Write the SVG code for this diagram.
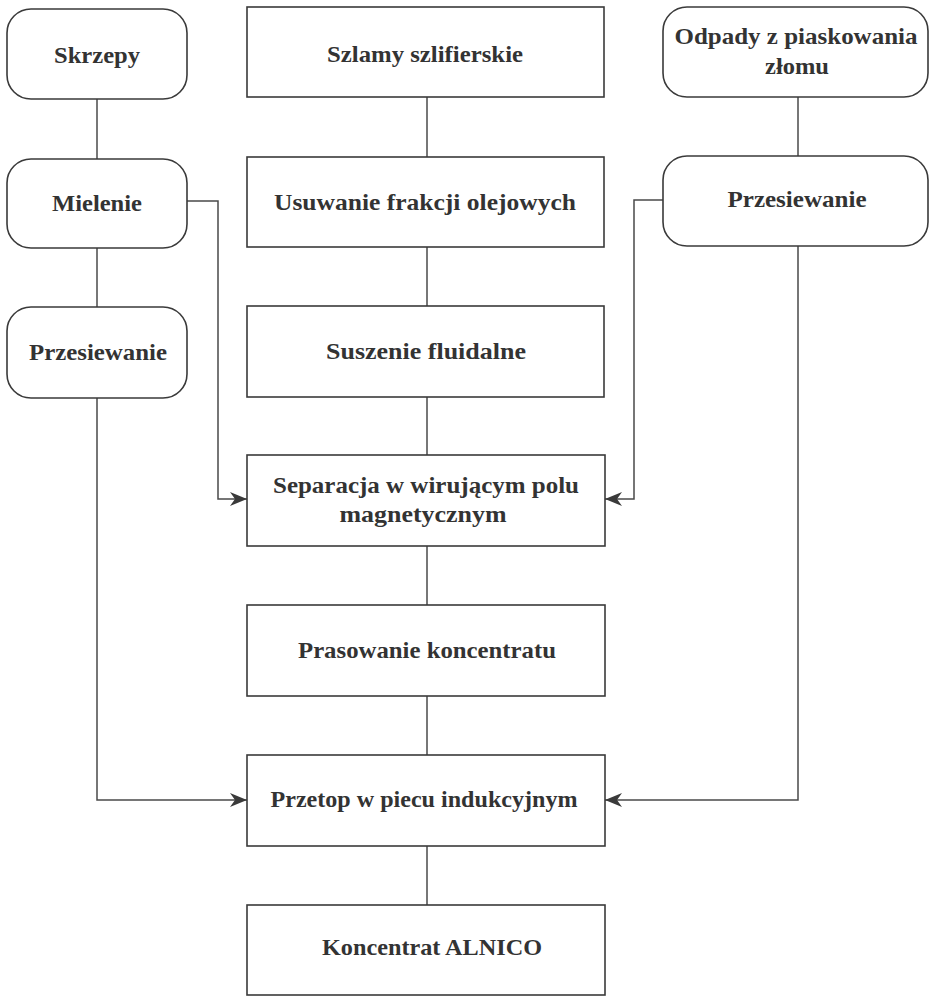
<svg xmlns="http://www.w3.org/2000/svg" width="932" height="997" viewBox="0 0 932 997">
<style>
.box{fill:#fff;stroke:#3a3a3a;stroke-width:1.6}
.ln{fill:none;stroke:#4a4a4a;stroke-width:1.5}
text{font-family:"Liberation Serif","Times New Roman",serif;font-weight:bold;font-size:23px;fill:#333;text-anchor:middle}
</style>
<defs>
<marker id="ah" markerUnits="userSpaceOnUse" markerWidth="18" markerHeight="16" refX="17" refY="8" orient="auto">
<path d="M0,1 L17,8 L0,15 L5,8 z" fill="#3a3a3a"/>
</marker>
</defs>
<rect width="932" height="997" fill="#fff"/>
<g id="connectors">
<path class="ln" d="M97,99 V159"/>
<path class="ln" d="M97,248 V307"/>
<path class="ln" d="M97,398 V800 H247" marker-end="url(#ah)"/>
<path class="ln" d="M187,201 H218 V499 H247" marker-end="url(#ah)"/>
<path class="ln" d="M427,97 V157"/>
<path class="ln" d="M427,247 V306"/>
<path class="ln" d="M427,397 V455"/>
<path class="ln" d="M427,546 V605"/>
<path class="ln" d="M427,696 V755"/>
<path class="ln" d="M427,846 V905"/>
<path class="ln" d="M798,97 V156"/>
<path class="ln" d="M798,246 V800 H605" marker-end="url(#ah)"/>
<path class="ln" d="M663,200 H634 V499 H605" marker-end="url(#ah)"/>
</g>
<g id="skrzepy"><rect class="box" x="7" y="9" width="180" height="90" rx="24"/><text x="97" y="63" textLength="86" lengthAdjust="spacingAndGlyphs">Skrzepy</text></g>
<g id="mielenie"><rect class="box" x="7" y="159" width="180" height="89" rx="24"/><text x="97" y="211" textLength="90" lengthAdjust="spacingAndGlyphs">Mielenie</text></g>
<g id="przesiewanie-l"><rect class="box" x="7" y="307" width="180" height="91" rx="24"/><text x="98" y="360" textLength="138" lengthAdjust="spacingAndGlyphs">Przesiewanie</text></g>
<g id="szlamy"><rect class="box" x="247" y="7" width="357" height="90"/><text x="425" y="62" textLength="196" lengthAdjust="spacingAndGlyphs">Szlamy szlifierskie</text></g>
<g id="usuwanie"><rect class="box" x="247" y="157" width="357" height="90"/><text x="425" y="210" textLength="302" lengthAdjust="spacingAndGlyphs">Usuwanie frakcji olejowych</text></g>
<g id="suszenie"><rect class="box" x="247" y="306" width="357" height="91"/><text x="426" y="359" textLength="200" lengthAdjust="spacingAndGlyphs">Suszenie fluidalne</text></g>
<g id="separacja"><rect class="box" x="247" y="455" width="358" height="91"/><text x="426" y="493" textLength="306" lengthAdjust="spacingAndGlyphs">Separacja w wirującym polu</text><text x="423" y="522" textLength="167" lengthAdjust="spacingAndGlyphs">magnetycznym</text></g>
<g id="prasowanie"><rect class="box" x="247" y="605" width="358" height="91"/><text x="427" y="658" textLength="258" lengthAdjust="spacingAndGlyphs">Prasowanie koncentratu</text></g>
<g id="przetop"><rect class="box" x="247" y="755" width="358" height="91"/><text x="424" y="807" textLength="307" lengthAdjust="spacingAndGlyphs">Przetop w piecu indukcyjnym</text></g>
<g id="koncentrat"><rect class="box" x="247" y="905" width="358" height="90"/><text x="432" y="955" textLength="220" lengthAdjust="spacingAndGlyphs">Koncentrat ALNICO</text></g>
<g id="odpady"><rect class="box" x="663" y="7" width="265" height="90" rx="24"/><text x="796" y="44" textLength="243" lengthAdjust="spacingAndGlyphs">Odpady z piaskowania</text><text x="797" y="74" textLength="64" lengthAdjust="spacingAndGlyphs">złomu</text></g>
<g id="przesiewanie-r"><rect class="box" x="663" y="156" width="265" height="90" rx="24"/><text x="797" y="207" textLength="139" lengthAdjust="spacingAndGlyphs">Przesiewanie</text></g>
</svg>
